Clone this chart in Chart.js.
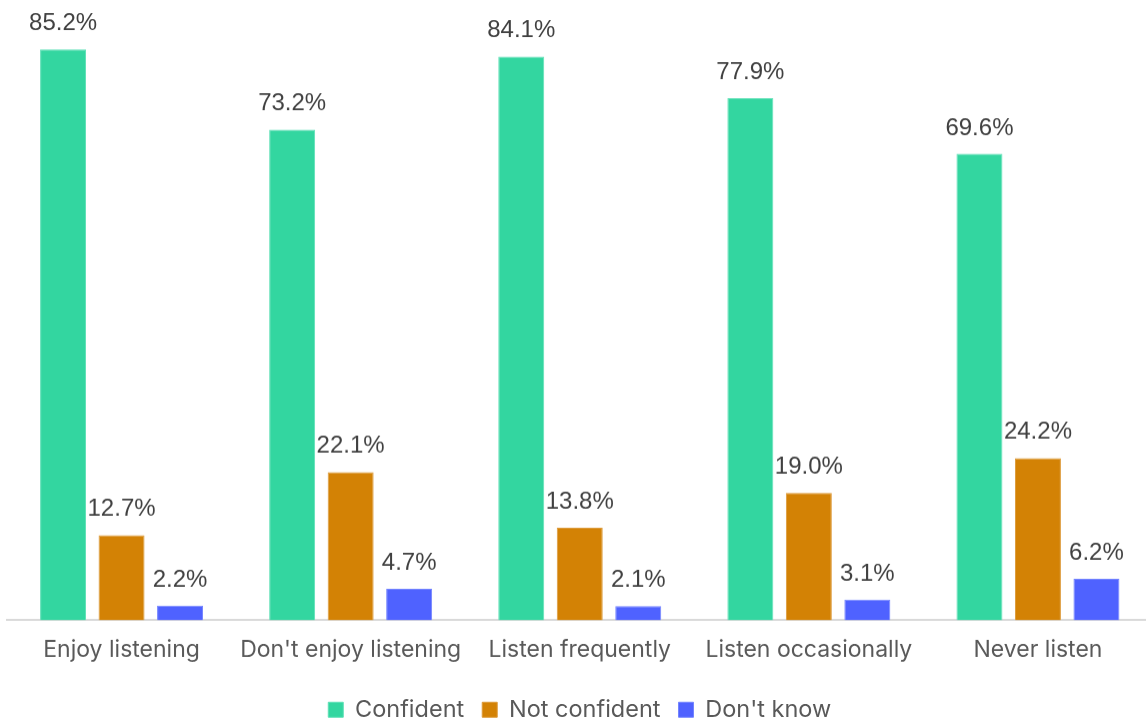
<!DOCTYPE html>
<html>
<head>
<meta charset="utf-8">
<script src="https://cdn.jsdelivr.net/npm/chart.js@4/dist/chart.umd.min.js"></script>
<style>
html,body{margin:0;padding:0;background:#fff;overflow:hidden;}
#wrap{position:absolute;left:0;top:0;width:1160px;height:730.5px;}
</style>
</head>
<body>
<div id="wrap"><canvas id="c"></canvas></div>
<script>
const categories = ["Enjoy listening", "Don't enjoy listening", "Listen frequently", "Listen occasionally", "Never listen"];
const confident = [85.2, 73.2, 84.1, 77.9, 69.6];
const notConfident = [12.7, 22.1, 13.8, 19.0, 24.2];
const dontKnow = [2.2, 4.7, 2.1, 3.1, 6.2];
const seriesNames = ["Confident", "Not confident", "Don't know"];

const valueLabels = {
  id: 'valueLabels',
  afterDatasetsDraw(chart) {
    const ctx = chart.ctx;
    ctx.save();
    ctx.font = '24px "Liberation Sans", Arial, sans-serif';
    ctx.fillStyle = '#404040';
    ctx.textAlign = 'center';
    ctx.textBaseline = 'alphabetic';
    chart.data.datasets.forEach((ds, i) => {
      const meta = chart.getDatasetMeta(i);
      meta.data.forEach((bar, j) => {
        ctx.fillText(ds.data[j].toFixed(1) + '%', bar.x, bar.y - 19);
      });
    });
    ctx.restore();
  }
};

new Chart(document.getElementById('c'), {
  type: 'bar',
  data: {
    labels: categories,
    datasets: [
      {label: seriesNames[0], data: confident, backgroundColor: '#33d6a0', borderColor: '#5ee0b6', borderWidth: 1},
      {label: seriesNames[1], data: notConfident, backgroundColor: '#d38205', borderColor: '#dd9a3a', borderWidth: 1},
      {label: seriesNames[2], data: dontKnow, backgroundColor: '#4f62ff', borderColor: '#7384ff', borderWidth: 1}
    ]
  },
  options: {
    responsive: true,
    maintainAspectRatio: false,
    animation: false,
    layout: {padding: {left: 7, right: 7.5, top: 17, bottom: 0}},
    datasets: {bar: {categoryPercentage: 0.766, barPercentage: 0.786}},
    scales: {
      x: {
        grid: {display: false, drawTicks: false},
        border: {display: true, color: '#d9d9d9', width: 2},
        ticks: {color: '#595959', font: {family: 'Inter', size: 23}, padding: 16, maxRotation: 0, autoSkip: false}
      },
      y: {display: false, min: 0, max: 90}
    },
    plugins: {
      legend: {
        position: 'bottom',
        labels: {
          color: '#595959',
          font: {family: 'Inter', size: 23.5},
          boxWidth: 15, boxHeight: 15, padding: 18
        }
      },
      tooltip: {enabled: false}
    }
  },
  plugins: [valueLabels]
});
</script>
</body>
</html>
